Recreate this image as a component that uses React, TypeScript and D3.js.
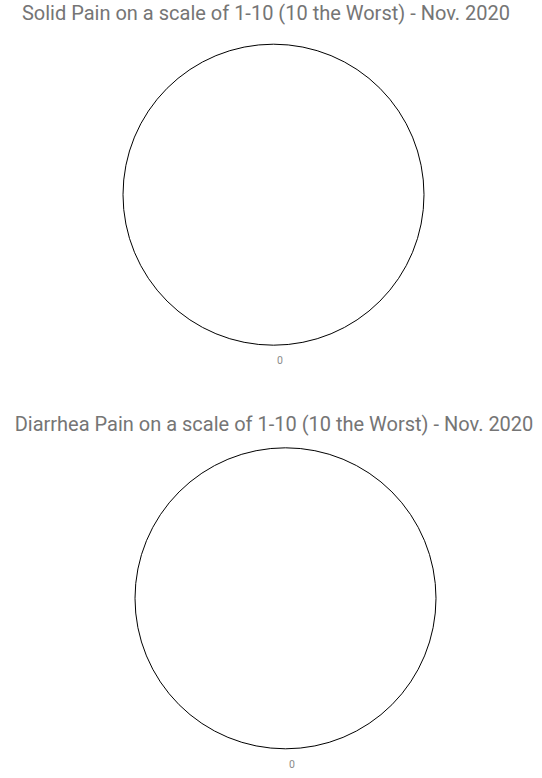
import React, { useEffect, useRef } from 'react';
import * as d3 from 'd3';

// two pie charts, both with a single zero reading
const TITLES = [
  'Solid Pain on a scale of 1-10 (10 the Worst) - Nov. 2020',
  'Diarrhea Pain on a scale of 1-10 (10 the Worst) - Nov. 2020',
];
const SOLID_VALUES = [0];
const DIARRHEA_VALUES = [0];
const SERIES = [SOLID_VALUES, DIARRHEA_VALUES];

const WIDTH = 542;
const HEIGHT = 778;

// layout of each chart block
const BLOCKS = [
  { titleX: 266, titleY: 20.3, cx: 273.5, cy: 194.7 },
  { titleX: 274, titleY: 431.3, cx: 285.5, cy: 598.3 },
];
const RADIUS = 150.5;

export default function App() {
  const svgRef = useRef<SVGSVGElement>(null);

  useEffect(() => {
    if (!svgRef.current) return;
    const svg = d3.select(svgRef.current);
    svg.selectAll('*').remove();

    svg.append('rect').attr('width', WIDTH).attr('height', HEIGHT).attr('fill', '#fff');

    const pie = d3.pie<number>().sort(null).value(d => d);
    const outline = d3.arc<any>().innerRadius(0).outerRadius(RADIUS);
    const sliceArc = d3.arc<d3.PieArcDatum<number>>().innerRadius(0).outerRadius(RADIUS);

    BLOCKS.forEach((b, i) => {
      svg.append('text')
        .attr('x', b.titleX)
        .attr('y', b.titleY)
        .attr('text-anchor', 'middle')
        .attr('font-family', 'Roboto, sans-serif')
        .attr('font-size', '20px')
        .attr('fill', '#757575')
        .text(TITLES[i]);

      const g = svg.append('g').attr('transform', `translate(${b.cx},${b.cy})`);
      const arcs = pie(SERIES[i]);

      // slices (zero width when every value is 0)
      g.selectAll('.slice')
        .data(arcs)
        .enter()
        .append('path')
        .attr('class', 'slice')
        .attr('d', sliceArc)
        .attr('fill', '#3366cc');

      // pie border
      g.append('path')
        .attr('d', outline({ startAngle: 0, endAngle: 2 * Math.PI }) as string)
        .attr('fill', 'none')
        .attr('stroke', '#000')
        .attr('stroke-width', 1);

      // value labels sit under the pie
      g.selectAll('.label')
        .data(arcs)
        .enter()
        .append('text')
        .attr('class', 'label')
        .attr('x', 6.5)
        .attr('y', RADIUS + 19)
        .attr('text-anchor', 'middle')
        .attr('font-family', 'Roboto, sans-serif')
        .attr('font-size', '10.5px')
        .attr('fill', '#8a8a8a')
        .text(d => String(d.data));
    });
  }, []);

  return (
    <div style={{ position: 'absolute', left: 0, top: 0 }}>
      <svg ref={svgRef} width={WIDTH} height={HEIGHT} style={{ display: 'block' }} />
    </div>
  );
}
